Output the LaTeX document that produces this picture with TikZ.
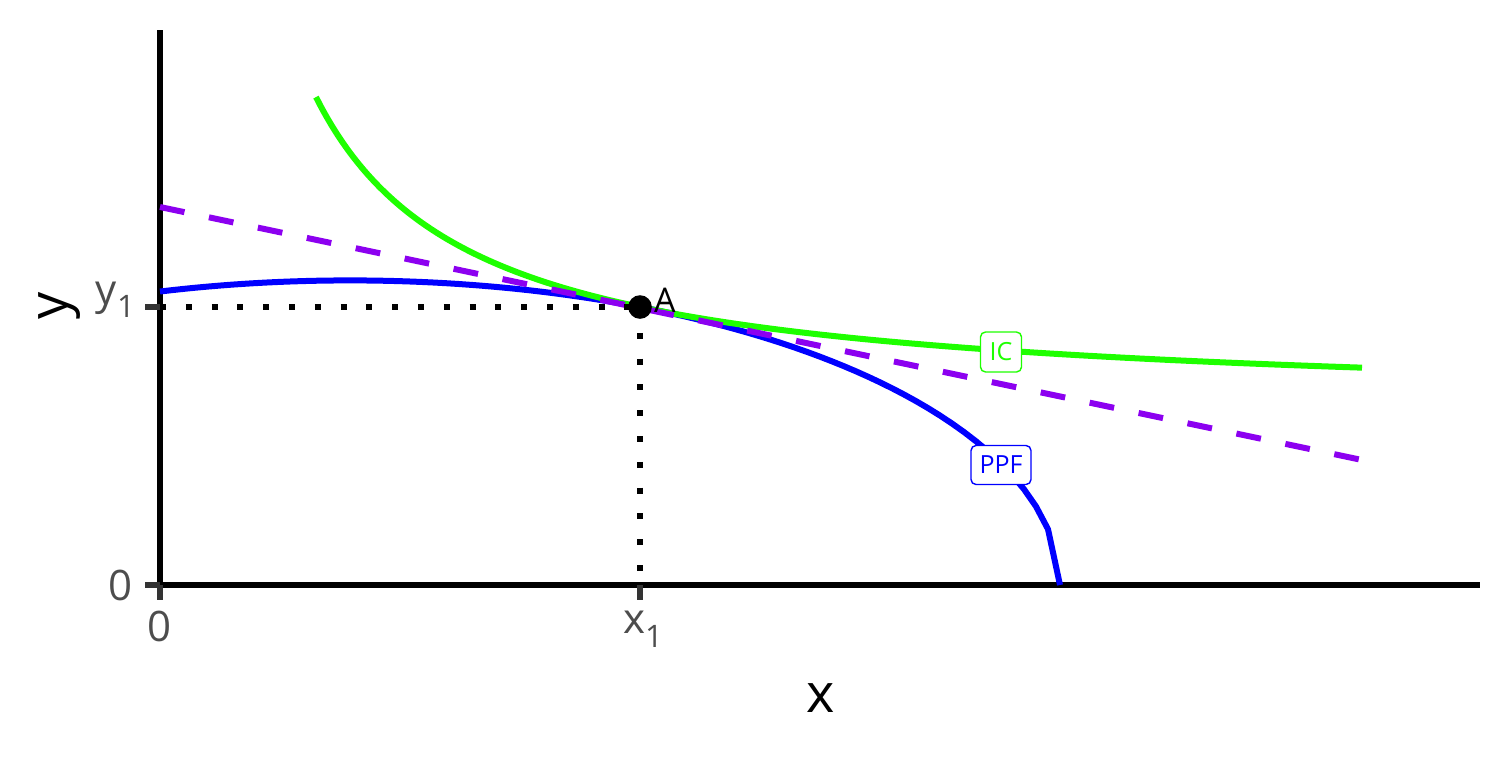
\documentclass[tikz,border=0pt]{standalone}
\usepackage{fontspec}
\setmainfont{Open Sans}
\definecolor{ppfblue}{RGB}{0,0,255}
\definecolor{icgreen}{RGB}{30,255,0}
\definecolor{budget}{RGB}{140,0,240}
\definecolor{ticktext}{RGB}{77,77,77}
\definecolor{tickline}{RGB}{51,51,51}
\newcommand{\fs}[1]{\fontsize{#1}{#1}\selectfont}
\newcommand{\sbone}{\raisebox{-0.32em}{\fs{31}1}}
\tikzset{
  axisline/.style={line width=6pt, black},
  tickmark/.style={line width=6pt, tickline},
  ticklabel/.style={text=ticktext, font=\fs{42}, inner sep=0pt},
  axistitle/.style={text=black, font=\fs{54}, inner sep=0pt},
  curve/.style={line width=6pt, line join=round},
  guide/.style={line width=6pt, black, dash pattern=on 6pt off 19.8pt},
  curvelabel/.style={line width=1.4pt, rounded corners=5pt, fill=white, font=\fs{25}, inner sep=0pt},
}
\begin{document}
\begin{tikzpicture}[x=1pt, y=-1pt]
\useasboundingbox (0,0) rectangle (1512,756);
% axes
\coordinate (O) at (160,585);
\coordinate (ytop) at (160,30);
\coordinate (xend) at (1480,585);
\draw[axisline] (ytop) -- (O) -- (xend);
% ticks
\draw[tickmark] (145,307) -- (160,307);
\draw[tickmark] (145,585) -- (160,585);
\draw[tickmark] (160,585) -- (160,600);
\draw[tickmark] (640,585) -- (640,600);
% tick labels
\node[ticklabel, anchor=east] (y0lab) at (133,585) {0};
\node[ticklabel, anchor=east] (y1lab) at (135,300) {y\sbone};
\node[ticklabel, anchor=north] (x0lab) at (160,611) {0};
\node[ticklabel, anchor=north] (x1lab) at (643,611) {x\sbone};
% axis titles
\node[axistitle] (xtitle) at (821,698) {x};
\node[axistitle, rotate=90] (ytitle) at (60,306) {y};
% PPF
\draw[curve, ppfblue] plot[domain=0:900, samples=76] ({160+\x},{585-304.6*sqrt(max(0,1-((\x-190)/710)^2))});
% IC
\draw[curve, icgreen] plot[domain=156:1202, samples=200] ({160+\x},{585-(177+485/(\x/100))});
% budget line
\coordinate (bl0) at (160,207);
\coordinate (bl1) at (1362,460);
\draw[line width=6pt, budget, dash pattern=on 25pt off 25pt] (bl0) -- (bl1);
% guides
\coordinate (A) at (640,307);
\coordinate (Ay) at (160,307);
\coordinate (Ax) at (640,585);
\draw[guide] (Ay) -- (A);
\draw[guide] (A) -- (Ax);
% point
\fill[black] (A) circle (11.8pt);
\node[anchor=south west, inner sep=0pt, font=\fs{34}] (Alab) at (654,313) {A};
% labels
\node[curvelabel, draw=icgreen, text=icgreen, minimum width=41pt, minimum height=40pt] (iclab) at (1001,352) {IC};
\node[curvelabel, draw=ppfblue, text=ppfblue, minimum width=60pt, minimum height=39pt] (ppflab) at (1001,465) {PPF};
\end{tikzpicture}
\end{document}
